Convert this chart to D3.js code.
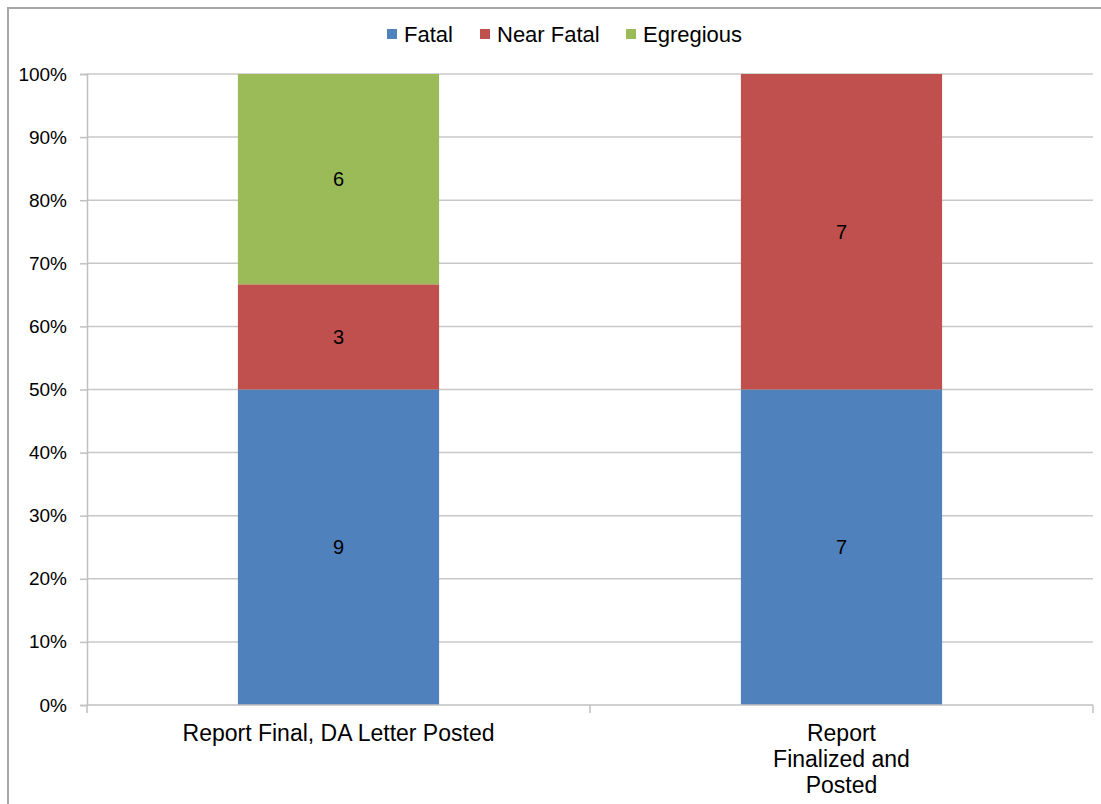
<!DOCTYPE html>
<html>
<head>
<meta charset="utf-8">
<script src="https://cdn.jsdelivr.net/npm/d3@7"></script>
<style>
  html, body { margin: 0; padding: 0; background: #fff; }
  svg { display: block; font-family: "Liberation Sans", Arial, sans-serif; }
</style>
</head>
<body>
<svg id="chart" width="1101" height="804"></svg>
<script>
// Case report status, split by incident type
const categories = ["Report Final, DA Letter Posted", "Report Finalized and Posted"];
const categoryLines = [["Report Final, DA Letter Posted"], ["Report", "Finalized and", "Posted"]];
const seriesNames = ["Fatal", "Near Fatal", "Egregious"];
const fatal = [9, 7];
const nearFatal = [3, 7];
const egregious = [6, 0];
const colors = ["#4F81BD", "#C0504D", "#9BBB59"];
const yTicks = [0, 0.1, 0.2, 0.3, 0.4, 0.5, 0.6, 0.7, 0.8, 0.9, 1.0];

const svg = d3.select("#chart");
const margin = { left: 87, right: 1093, top: 74, bottom: 705 };

// outer frame (top and left edges)
svg.append("path")
  .attr("d", "M8,804 V8 H1101")
  .attr("fill", "none")
  .attr("stroke", "#a6a6a6")
  .attr("stroke-width", 2);

const rows = categories.map((c, i) => ({
  category: c,
  "Fatal": fatal[i],
  "Near Fatal": nearFatal[i],
  "Egregious": egregious[i]
}));

const stacked = d3.stack().keys(seriesNames).offset(d3.stackOffsetExpand)(rows);

const x = d3.scaleBand()
  .domain(categories)
  .range([margin.left, margin.right])
  .paddingInner(0.6)
  .paddingOuter(0.3);

const y = d3.scaleLinear().domain([0, 1]).range([margin.bottom, margin.top]);

// horizontal gridlines
svg.append("g")
  .selectAll("line")
  .data(yTicks.slice(1))
  .join("line")
  .attr("x1", margin.left)
  .attr("x2", margin.right)
  .attr("y1", d => y(d))
  .attr("y2", d => y(d))
  .attr("stroke", "#c8c8c8")
  .attr("stroke-width", 1.5);

// y axis
const yAxis = svg.append("g")
  .attr("transform", `translate(${margin.left},0)`)
  .call(d3.axisLeft(y).tickValues(yTicks).tickFormat(d3.format(".0%")).tickSize(7).tickPadding(13));
yAxis.select(".domain").attr("stroke", "#c0c0c0").attr("stroke-width", 1.5);
yAxis.selectAll(".tick line").attr("stroke", "#c0c0c0").attr("stroke-width", 1.5);
yAxis.selectAll(".tick text")
  .attr("font-size", 19)
  .attr("fill", "#000")
  .attr("font-family", "'Liberation Sans', Arial, sans-serif");

// bars
const layer = svg.append("g")
  .selectAll("g")
  .data(stacked)
  .join("g")
  .attr("fill", (d, i) => colors[i]);

layer.selectAll("rect")
  .data(d => d.map(p => ({ p, key: d.key })))
  .join("rect")
  .attr("x", d => x(d.p.data.category))
  .attr("width", x.bandwidth())
  .attr("y", d => y(d.p[1]))
  .attr("height", d => y(d.p[0]) - y(d.p[1]));

// value labels
layer.selectAll("text")
  .data(d => d.map(p => ({ p, key: d.key })).filter(d => d.p.data[d.key] > 0))
  .join("text")
  .attr("x", d => x(d.p.data.category) + x.bandwidth() / 2)
  .attr("y", d => (y(d.p[0]) + y(d.p[1])) / 2)
  .attr("dy", "0.36em")
  .attr("text-anchor", "middle")
  .attr("font-size", 20)
  .attr("fill", "#000")
  .text(d => d.p.data[d.key]);

// x axis baseline and category ticks
const xg = svg.append("g");
xg.append("line")
  .attr("x1", margin.left).attr("x2", margin.right)
  .attr("y1", margin.bottom).attr("y2", margin.bottom)
  .attr("stroke", "#c0c0c0").attr("stroke-width", 1.5);
const boundaries = [margin.left, (margin.left + margin.right) / 2, margin.right];
xg.selectAll("line.tk")
  .data(boundaries)
  .join("line")
  .attr("class", "tk")
  .attr("x1", d => d).attr("x2", d => d)
  .attr("y1", margin.bottom).attr("y2", margin.bottom + 8)
  .attr("stroke", "#c0c0c0").attr("stroke-width", 1.5);

// category labels (wrapped)
categories.forEach((c, i) => {
  const t = xg.append("text")
    .attr("text-anchor", "middle")
    .attr("font-size", 23)
    .attr("fill", "#000");
  categoryLines[i].forEach((line, j) => {
    t.append("tspan")
      .attr("x", x(c) + x.bandwidth() / 2)
      .attr("y", 741 + j * 26)
      .text(line);
  });
});

// legend
const legendItems = [
  { name: seriesNames[0], color: colors[0], x: 387 },
  { name: seriesNames[1], color: colors[1], x: 480 },
  { name: seriesNames[2], color: colors[2], x: 626 }
];
const lg = svg.append("g");
const li = lg.selectAll("g").data(legendItems).join("g")
  .attr("transform", d => `translate(${d.x},34)`);
li.append("rect")
  .attr("x", 0).attr("y", -5)
  .attr("width", 10).attr("height", 10)
  .attr("fill", d => d.color);
li.append("text")
  .attr("x", 17)
  .attr("dy", "0.36em")
  .attr("font-size", 22)
  .attr("fill", "#000")
  .text(d => d.name);
</script>
</body>
</html>
